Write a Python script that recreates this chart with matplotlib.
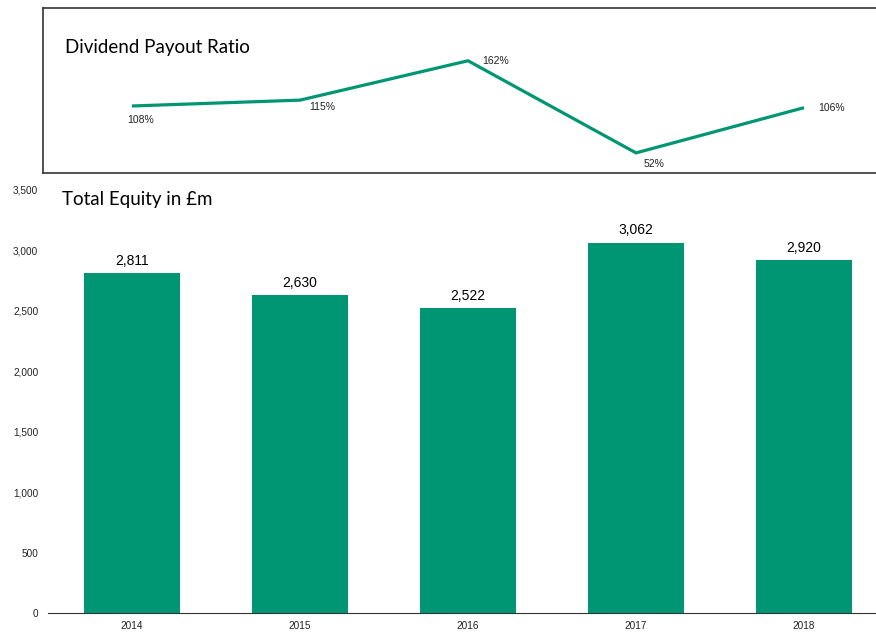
import matplotlib.pyplot as plt

years = ['2014', '2015', '2016', '2017', '2018']
payout = [108, 115, 162, 52, 106]
payout_labels = ['108%', '115%', '162%', '52%', '106%']
equity = [2811, 2630, 2522, 3062, 2920]
equity_labels = ['2,811', '2,630', '2,522', '3,062', '2,920']
yticks = [0, 500, 1000, 1500, 2000, 2500, 3000, 3500]
ytick_labels = ['0', '500', '1,000', '1,500', '2,000', '2,500', '3,000', '3,500']

green = '#009673'
plt.rcParams['font.family'] = ['Liberation Sans', 'DejaVu Sans']

fig = plt.figure(figsize=(8.76, 6.33), dpi=100)
x = list(range(len(years)))

# top panel - dividend payout ratio line
ax1 = fig.add_axes([43 / 876, 1 - 173 / 633, 1 - 43 / 876, 165 / 633])
ax1.plot(x, payout, color=green, lw=2.3, solid_capstyle='butt')
ax1.set_xlim((43 - 132) / 168, (876 - 132) / 168)
ax1.set_ylim(28, 225)
ax1.set_xticks([])
ax1.set_yticks([])
ax1.spines['right'].set_visible(False)
for s in ['top', 'bottom', 'left']:
    ax1.spines[s].set_color('#333333')
    ax1.spines[s].set_linewidth(1.2)
# label offsets in pixels (dx, dy)
offs = [(9, -14), (22, -7), (28, 0), (18, -11), (28, 0)]
for xi, v, lab, (dx, dy) in zip(x, payout, payout_labels, offs):
    ax1.annotate(lab, (xi, v), xytext=(dx * 0.72, dy * 0.72), textcoords='offset points',
                 ha='center', va='center', fontsize=7.5, color='#222222')
ax1.text((65 - 43) / 833, 1 - (47 - 8) / 165, 'Dividend Payout Ratio', transform=ax1.transAxes,
         ha='left', va='center', fontsize=13.5, family=['Lato', 'DejaVu Sans'])

# bottom panel - total equity bars
ax2 = fig.add_axes([48 / 876, 20 / 633, 1 - 48 / 876, 423 / 633])
ax2.bar(x, equity, width=96 / 168, color=green)
ax2.set_xlim(-0.5, (876 - 132) / 168)
ax2.set_ylim(0, 3500)
ax2.set_xticks(x)
ax2.set_xticklabels(years, fontsize=7.2, color='#222222')
ax2.set_yticks(yticks)
ax2.set_yticklabels(ytick_labels, fontsize=7.2, color='#222222')
ax2.tick_params(length=0, pad=7)
ax2.tick_params(axis='x', pad=6)
for s in ['top', 'right', 'left']:
    ax2.spines[s].set_visible(False)
ax2.spines['bottom'].set_color('#333333')
for xi, v, lab in zip(x, equity, equity_labels):
    ax2.annotate(lab, (xi, v), xytext=(0, 4), textcoords='offset points',
                 ha='center', va='bottom', fontsize=10)
ax2.text((62 - 48) / 828, 1 - (200 - 190) / 423, 'Total Equity in £m', transform=ax2.transAxes,
         ha='left', va='center', fontsize=13.5, family=['Lato', 'DejaVu Sans'])

fig.savefig('out.png', dpi=100)
